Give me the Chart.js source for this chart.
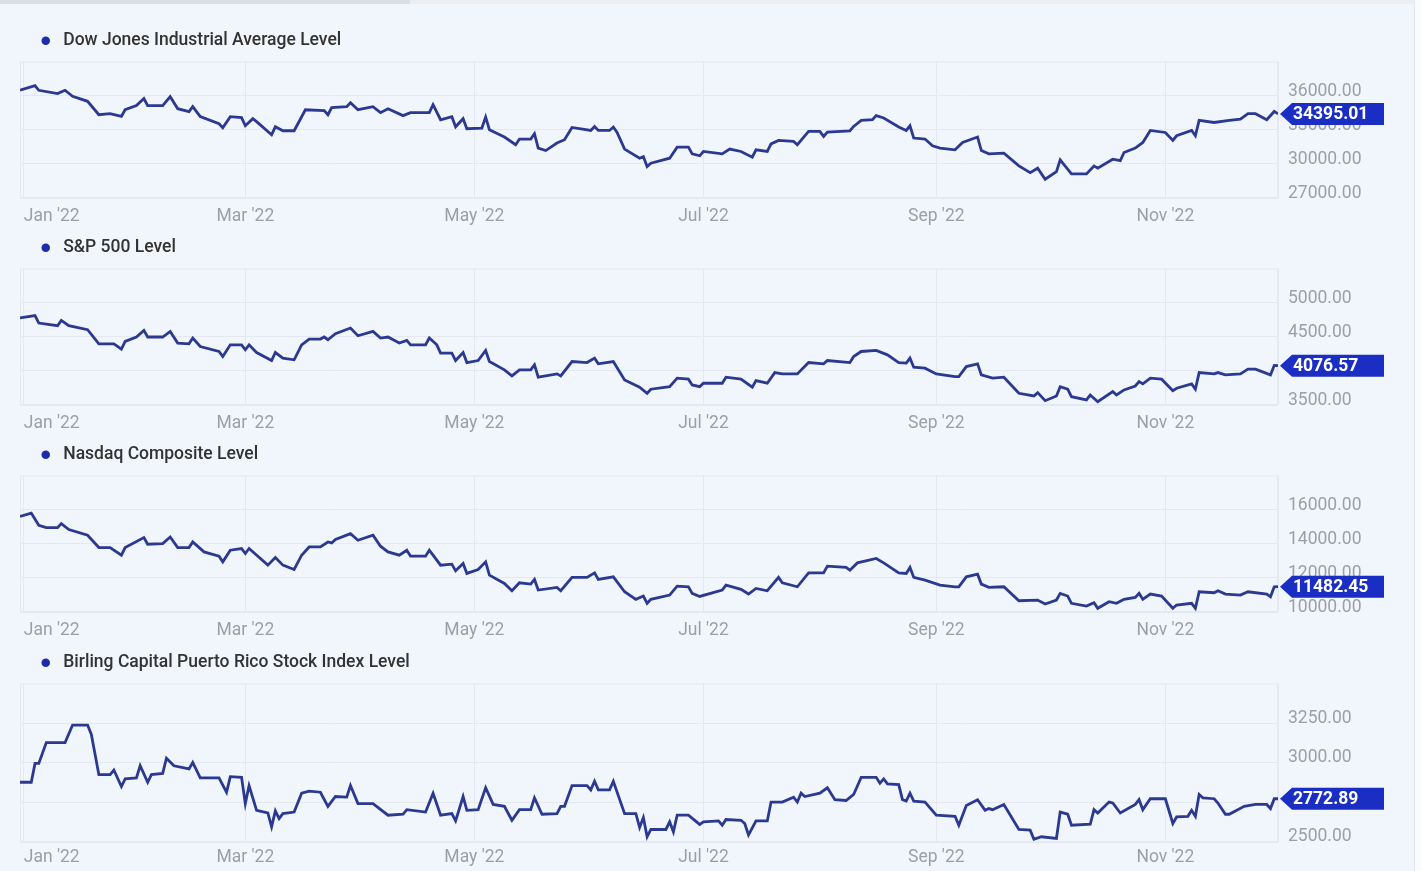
<!DOCTYPE html>
<html>
<head>
<meta charset="utf-8">
<title>Index levels 2022</title>
<script src="https://cdn.jsdelivr.net/npm/chart.js@4/dist/chart.umd.min.js"></script>
<style>
  html, body { margin: 0; padding: 0; }
  body { width: 1421px; height: 871px; background: #f1f5fc; position: relative; overflow: hidden; }
  .topbar { position: absolute; left: 0; top: 0; width: 1421px; height: 4px; background: #eceef1; }
  .topbar span { position: absolute; left: 0; top: 0; width: 410px; height: 4px; background: #dadde1; }
  .edge { position: absolute; right: 0; top: 0; width: 6px; height: 871px; background: #fafbfe; border-left: 1px solid #e2e7ef; }
  canvas { position: absolute; left: 0; }
</style>
</head>
<body>
<div class="topbar"><span></span></div>
<div class="edge"></div>
<canvas id="djia" width="1414" height="220" style="top:15px"></canvas>
<canvas id="spx" width="1414" height="220" style="top:222px"></canvas>
<canvas id="nasdaq" width="1414" height="220" style="top:429px"></canvas>
<canvas id="birling" width="1414" height="236" style="top:637px"></canvas>
<script>
// month ticks of the shared time axis
const monthTicks = ['2022-01-01', '2022-03-01', '2022-05-01', '2022-07-01', '2022-09-01', '2022-11-01', '2022-12-01'];
const monthLabels = ["Jan '22", "Mar '22", "May '22", "Jul '22", "Sep '22", "Nov '22", ''];

// Dow Jones Industrial Average
const djiaDates = [
  '2021-12-31','2022-01-04','2022-01-05','2022-01-10','2022-01-12','2022-01-14','2022-01-18','2022-01-21','2022-01-24','2022-01-27',
  '2022-01-28','2022-01-31','2022-02-02','2022-02-03','2022-02-07','2022-02-09','2022-02-11','2022-02-14','2022-02-15','2022-02-17',
  '2022-02-22','2022-02-23','2022-02-25','2022-02-28','2022-03-01','2022-03-03','2022-03-04','2022-03-08','2022-03-09','2022-03-11',
  '2022-03-14','2022-03-17','2022-03-22','2022-03-23','2022-03-24','2022-03-28','2022-03-29','2022-03-31','2022-04-04','2022-04-06',
  '2022-04-08','2022-04-12','2022-04-14','2022-04-19','2022-04-20','2022-04-22','2022-04-25','2022-04-26','2022-04-28','2022-04-29',
  '2022-05-03','2022-05-04','2022-05-05','2022-05-09','2022-05-12','2022-05-13','2022-05-16','2022-05-17','2022-05-18','2022-05-20',
  '2022-05-23','2022-05-25','2022-05-27','2022-06-01','2022-06-02','2022-06-03','2022-06-06','2022-06-07','2022-06-08','2022-06-10',
  '2022-06-14','2022-06-15','2022-06-16','2022-06-17','2022-06-22','2022-06-24','2022-06-27','2022-06-28','2022-06-30','2022-07-01',
  '2022-07-06','2022-07-08','2022-07-11','2022-07-14','2022-07-15','2022-07-18','2022-07-19','2022-07-21','2022-07-25','2022-07-26',
  '2022-07-29','2022-08-01','2022-08-02','2022-08-03','2022-08-09','2022-08-10','2022-08-12','2022-08-15','2022-08-16','2022-08-18',
  '2022-08-22','2022-08-24','2022-08-25','2022-08-26','2022-08-29','2022-08-31','2022-09-02','2022-09-06','2022-09-08','2022-09-12',
  '2022-09-13','2022-09-15','2022-09-19','2022-09-23','2022-09-26','2022-09-28','2022-09-30','2022-10-03','2022-10-04','2022-10-07',
  '2022-10-11','2022-10-13','2022-10-14','2022-10-18','2022-10-20','2022-10-21','2022-10-24','2022-10-26','2022-10-28','2022-11-01',
  '2022-11-03','2022-11-04','2022-11-08','2022-11-09','2022-11-10','2022-11-14','2022-11-18','2022-11-21','2022-11-23','2022-11-25',
  '2022-11-28','2022-11-30','2022-12-01'
];
const djiaLevels = [
  36470,36880,36470,36180,36470,35940,35500,34320,34410,34170,
  34760,35120,35740,35120,35120,35910,34850,34590,35030,34150,
  33530,33180,34150,34060,33350,33970,33710,32560,33260,32910,
  32910,34760,34680,34320,34940,35030,35380,34760,35030,34500,
  34850,34240,34500,34500,35210,33880,34150,33260,33970,33090,
  33150,34120,33000,32360,31680,32180,32180,32650,31390,31170,
  31830,32120,33200,32940,33290,32940,32940,33240,32760,31300,
  30500,30640,29760,30060,30500,31470,31470,30880,30710,31090,
  30880,31300,31090,30590,31240,31090,31760,32060,31970,31680,
  32850,32850,32410,32800,32910,33290,33820,33880,34240,34030,
  33240,32940,33350,32270,32180,31590,31390,31240,31880,32360,
  31170,30880,30940,29820,29230,29620,28650,29320,30350,29120,
  29120,29820,29620,30410,30290,31000,31390,31880,32940,32760,
  32060,32470,32940,32470,33820,33640,33820,33940,34410,34410,
  33880,34610,34395.01
];
const djiaTicks = [27000, 30000, 33000, 36000];

// S&P 500
const spxDates = [
  '2021-12-31','2022-01-04','2022-01-05','2022-01-10','2022-01-11','2022-01-13','2022-01-18','2022-01-21','2022-01-25','2022-01-27',
  '2022-01-28','2022-01-31','2022-02-02','2022-02-03','2022-02-07','2022-02-09','2022-02-11','2022-02-14','2022-02-15','2022-02-17',
  '2022-02-22','2022-02-23','2022-02-25','2022-02-28','2022-03-01','2022-03-02','2022-03-04','2022-03-08','2022-03-09','2022-03-11',
  '2022-03-14','2022-03-16','2022-03-18','2022-03-21','2022-03-22','2022-03-23','2022-03-25','2022-03-29','2022-03-31','2022-04-04',
  '2022-04-06','2022-04-08','2022-04-11','2022-04-13','2022-04-14','2022-04-18','2022-04-19','2022-04-21','2022-04-22','2022-04-25',
  '2022-04-26','2022-04-28','2022-04-29','2022-05-02','2022-05-04','2022-05-05','2022-05-09','2022-05-11','2022-05-13','2022-05-16',
  '2022-05-17','2022-05-18','2022-05-23','2022-05-24','2022-05-27','2022-05-31','2022-06-02','2022-06-03','2022-06-07','2022-06-10',
  '2022-06-14','2022-06-16','2022-06-17','2022-06-22','2022-06-24','2022-06-27','2022-06-28','2022-06-30','2022-07-01','2022-07-06',
  '2022-07-07','2022-07-11','2022-07-14','2022-07-15','2022-07-18','2022-07-20','2022-07-22','2022-07-26','2022-07-29','2022-08-02',
  '2022-08-03','2022-08-09','2022-08-10','2022-08-12','2022-08-16','2022-08-19','2022-08-22','2022-08-24','2022-08-25','2022-08-26',
  '2022-08-29','2022-09-01','2022-09-06','2022-09-07','2022-09-09','2022-09-12','2022-09-13','2022-09-16','2022-09-19','2022-09-23',
  '2022-09-27','2022-09-28','2022-09-30','2022-10-03','2022-10-04','2022-10-06','2022-10-07','2022-10-11','2022-10-12','2022-10-14',
  '2022-10-18','2022-10-19','2022-10-21','2022-10-24','2022-10-25','2022-10-26','2022-10-28','2022-10-31','2022-11-03','2022-11-04',
  '2022-11-08','2022-11-09','2022-11-10','2022-11-14','2022-11-15','2022-11-17','2022-11-21','2022-11-23','2022-11-25','2022-11-29',
  '2022-11-30','2022-12-01'
];
const spxLevels = [
  4775,4809,4701,4662,4740,4662,4603,4397,4397,4319,
  4431,4496,4593,4496,4496,4578,4407,4397,4481,4357,
  4284,4210,4382,4382,4309,4382,4269,4151,4269,4187,
  4162,4382,4466,4466,4496,4456,4544,4628,4515,4578,
  4481,4496,4407,4446,4382,4382,4481,4382,4260,4260,
  4151,4269,4122,4151,4299,4137,4015,3926,4015,4015,
  4088,3907,3956,3926,4137,4122,4187,4103,4137,3868,
  3760,3672,3731,3769,3893,3878,3794,3769,3819,3819,
  3907,3878,3760,3857,3819,3975,3956,3956,4122,4103,
  4151,4122,4210,4284,4299,4235,4122,4113,4187,4054,
  4040,3956,3916,3916,4063,4103,3941,3893,3907,3672,
  3632,3681,3563,3632,3769,3731,3622,3574,3647,3548,
  3696,3647,3721,3779,3843,3809,3893,3878,3710,3746,
  3809,3731,3975,3956,3975,3941,3956,4025,4025,3941,
  4080,4076.57
];
const spxTicks = [3500, 4000, 4500, 5000];

// Nasdaq Composite
const nasdaqDates = [
  '2021-12-31','2022-01-03','2022-01-05','2022-01-07','2022-01-10','2022-01-11','2022-01-13','2022-01-18','2022-01-21','2022-01-24',
  '2022-01-27','2022-01-28','2022-02-02','2022-02-03','2022-02-07','2022-02-09','2022-02-11','2022-02-14','2022-02-15','2022-02-18',
  '2022-02-22','2022-02-23','2022-02-25','2022-02-28','2022-03-01','2022-03-02','2022-03-07','2022-03-09','2022-03-11','2022-03-14',
  '2022-03-16','2022-03-18','2022-03-21','2022-03-23','2022-03-24','2022-03-25','2022-03-29','2022-03-31','2022-04-04','2022-04-06',
  '2022-04-08','2022-04-11','2022-04-13','2022-04-14','2022-04-18','2022-04-19','2022-04-22','2022-04-25','2022-04-26','2022-04-28',
  '2022-04-29','2022-05-02','2022-05-04','2022-05-05','2022-05-09','2022-05-11','2022-05-13','2022-05-16','2022-05-17','2022-05-18',
  '2022-05-23','2022-05-24','2022-05-27','2022-05-31','2022-06-02','2022-06-03','2022-06-07','2022-06-10','2022-06-13','2022-06-15',
  '2022-06-16','2022-06-17','2022-06-22','2022-06-24','2022-06-27','2022-06-28','2022-06-30','2022-07-06','2022-07-07','2022-07-11',
  '2022-07-13','2022-07-15','2022-07-18','2022-07-21','2022-07-22','2022-07-26','2022-07-29','2022-08-02','2022-08-03','2022-08-08',
  '2022-08-09','2022-08-11','2022-08-16','2022-08-18','2022-08-22','2022-08-24','2022-08-25','2022-08-26','2022-08-29','2022-09-02',
  '2022-09-06','2022-09-07','2022-09-09','2022-09-12','2022-09-13','2022-09-15','2022-09-19','2022-09-23','2022-09-28','2022-09-30',
  '2022-10-03','2022-10-04','2022-10-06','2022-10-07','2022-10-11','2022-10-13','2022-10-14','2022-10-17','2022-10-19','2022-10-21',
  '2022-10-24','2022-10-25','2022-10-26','2022-10-28','2022-10-31','2022-11-03','2022-11-04','2022-11-08','2022-11-09','2022-11-10',
  '2022-11-14','2022-11-15','2022-11-17','2022-11-21','2022-11-23','2022-11-28','2022-11-29','2022-11-30','2022-12-01'
];
const nasdaqLevels = [
  15606,15799,15080,14946,14946,15180,14829,14497,13778,13778,
  13329,13778,14362,13971,14012,14397,13778,13778,14105,13521,
  13270,12938,13621,13720,13428,13720,12745,13194,12745,12494,
  13329,13813,13813,14105,14047,14246,14596,14205,14497,13854,
  13521,13329,13621,13270,13270,13621,12745,12803,12412,12844,
  12260,12494,12938,12161,11676,11244,11711,11635,11910,11285,
  11443,11244,12027,12027,12295,11910,12062,11186,10742,10935,
  10509,10742,10993,11519,11478,11092,10911,11285,11577,11326,
  11052,11384,11244,12027,11711,11478,12295,12295,12687,12611,
  12453,12879,13136,12879,12295,12260,12611,12027,11869,11577,
  11478,11478,12062,12219,11635,11443,11478,10660,10701,10468,
  10701,11092,10935,10509,10351,10544,10217,10602,10509,10742,
  10859,11092,10742,11052,10935,10217,10409,10509,10217,11186,
  11127,11244,11052,10993,11186,11052,10894,11478,11482.45
];
const nasdaqTicks = [10000, 12000, 14000, 16000];

// Birling Capital Puerto Rico Stock Index
const birlingDates = [
  '2021-12-31','2022-01-03','2022-01-04','2022-01-05','2022-01-07','2022-01-12','2022-01-14','2022-01-18','2022-01-19','2022-01-21',
  '2022-01-24','2022-01-25','2022-01-27','2022-01-28','2022-01-31','2022-02-01','2022-02-03','2022-02-04','2022-02-07','2022-02-08',
  '2022-02-10','2022-02-14','2022-02-15','2022-02-17','2022-02-22','2022-02-24','2022-02-25','2022-02-28','2022-03-01','2022-03-02',
  '2022-03-04','2022-03-07','2022-03-08','2022-03-09','2022-03-10','2022-03-11','2022-03-14','2022-03-16','2022-03-18','2022-03-21',
  '2022-03-23','2022-03-25','2022-03-28','2022-03-29','2022-03-31','2022-04-04','2022-04-08','2022-04-12','2022-04-13','2022-04-18',
  '2022-04-20','2022-04-22','2022-04-25','2022-04-26','2022-04-28','2022-04-29','2022-05-02','2022-05-04','2022-05-06','2022-05-09',
  '2022-05-11','2022-05-13','2022-05-16','2022-05-17','2022-05-19','2022-05-23','2022-05-24','2022-05-25','2022-05-27','2022-05-31',
  '2022-06-01','2022-06-02','2022-06-03','2022-06-06','2022-06-07','2022-06-10','2022-06-13','2022-06-14','2022-06-15','2022-06-16',
  '2022-06-17','2022-06-21','2022-06-22','2022-06-23','2022-06-24','2022-06-27','2022-06-30','2022-07-01','2022-07-05','2022-07-06',
  '2022-07-07','2022-07-11','2022-07-12','2022-07-13','2022-07-15','2022-07-18','2022-07-19','2022-07-22','2022-07-25','2022-07-26',
  '2022-07-27','2022-07-28','2022-08-01','2022-08-03','2022-08-05','2022-08-08','2022-08-10','2022-08-12','2022-08-16','2022-08-17',
  '2022-08-18','2022-08-19','2022-08-22','2022-08-23','2022-08-24','2022-08-25','2022-08-26','2022-08-29','2022-09-01','2022-09-06',
  '2022-09-07','2022-09-09','2022-09-12','2022-09-14','2022-09-15','2022-09-16','2022-09-19','2022-09-23','2022-09-26','2022-09-27',
  '2022-09-29','2022-10-03','2022-10-04','2022-10-06','2022-10-07','2022-10-12','2022-10-13','2022-10-14','2022-10-17','2022-10-18',
  '2022-10-20','2022-10-24','2022-10-25','2022-10-26','2022-10-28','2022-11-01','2022-11-03','2022-11-04','2022-11-07','2022-11-08',
  '2022-11-09','2022-11-10','2022-11-11','2022-11-14','2022-11-15','2022-11-17','2022-11-18','2022-11-22','2022-11-25','2022-11-28',
  '2022-11-29','2022-11-30','2022-12-01'
];
const birlingLevels = [
  2877,2877,2996,2996,3127,3127,3238,3238,3179,2925,
  2925,2954,2850,2898,2904,2981,2877,2925,2933,3029,
  2981,2961,3002,2904,2904,2814,2912,2908,2742,2856,
  2700,2683,2596,2696,2648,2679,2689,2808,2821,2814,
  2725,2787,2783,2856,2742,2742,2669,2675,2704,2689,
  2808,2669,2679,2633,2787,2700,2704,2842,2737,2725,
  2637,2704,2704,2779,2675,2679,2725,2725,2856,2856,
  2829,2883,2829,2829,2883,2679,2679,2592,2654,2533,
  2579,2579,2627,2564,2669,2669,2611,2627,2633,2606,
  2642,2637,2617,2544,2633,2633,2752,2752,2783,2752,
  2808,2787,2808,2842,2767,2762,2800,2908,2908,2871,
  2898,2867,2862,2767,2758,2808,2758,2752,2669,2662,
  2606,2731,2767,2700,2711,2704,2737,2579,2575,2517,
  2533,2523,2689,2675,2606,2612,2704,2683,2752,2746,
  2683,2737,2767,2704,2773,2773,2617,2658,2662,2700,
  2662,2800,2779,2773,2746,2675,2675,2725,2737,2737,
  2711,2773,2772.89
];
const birlingTicks = [2500, 2750, 3000, 3250];

const YEAR_START = Date.UTC(2022, 0, 1);
function dayNum(s) {
  const p = s.split('-').map(Number);
  return (Date.UTC(p[0], p[1] - 1, p[2]) - YEAR_START) / 86400000;
}

const tickFont = { family: 'Roboto', size: 17.5 };
const tickColor = '#9b9fa6';
const gridColor = '#e3e8f1';

// a bit more room between legend and plot
const legendGap = {
  id: 'legendGap',
  beforeInit(chart) {
    const fit = chart.legend.fit;
    chart.legend.fit = function () { fit.call(this); this.height += 2; };
  }
};

const plotFrame = {
  id: 'plotFrame',
  beforeDatasetsDraw(chart) {
    const { ctx, chartArea: a } = chart;
    ctx.save();
    ctx.strokeStyle = gridColor;
    ctx.lineWidth = 1;
    ctx.strokeRect(a.left + 0.5, a.top + 0.5, a.width - 1, a.height - 1);
    ctx.restore();
  }
};

// flag with the last value at the right axis
const lastValueBadge = {
  id: 'lastValueBadge',
  afterDatasetsDraw(chart) {
    const meta = chart.getDatasetMeta(0);
    const pt = meta.data[meta.data.length - 1];
    const data = chart.data.datasets[0].data;
    const v = data[data.length - 1].y;
    const { ctx, chartArea } = chart;
    const x0 = chartArea.right + 2, y = pt.y, h = 22, w = 104;
    ctx.save();
    ctx.fillStyle = '#1a2ec4';
    ctx.beginPath();
    ctx.moveTo(x0, y);
    ctx.lineTo(x0 + 12, y - h / 2);
    ctx.lineTo(x0 + w, y - h / 2);
    ctx.lineTo(x0 + w, y + h / 2);
    ctx.lineTo(x0 + 12, y + h / 2);
    ctx.closePath();
    ctx.fill();
    ctx.fillStyle = '#ffffff';
    ctx.font = 'bold 17.5px Roboto';
    ctx.textBaseline = 'middle';
    ctx.fillText(v.toFixed(2), x0 + 13, y + 1);
    ctx.restore();
  }
};

function drawPanel(id, name, dates, levels, yMin, yMax, yTicks, labelPad, yLabelShift) {
  const points = dates.map((d, i) => ({ x: dayNum(d), y: levels[i] }));
  return new Chart(document.getElementById(id), {
    type: 'line',
    data: {
      datasets: [{
        label: name,
        data: points,
        borderColor: '#2b3990',
        backgroundColor: '#1f2ca8',
        borderWidth: 2.8,
        pointRadius: 0,
        tension: 0
      }]
    },
    options: {
      responsive: false,
      animation: false,
      layout: { padding: { left: 20, top: 0, right: 0, bottom: 0 } },
      plugins: {
        legend: {
          position: 'top',
          align: 'start',
          labels: {
            usePointStyle: true,
            pointStyle: 'circle',
            boxWidth: 18,
            boxHeight: 6,
            padding: 17,
            color: '#333333',
            font: { family: 'Roboto', size: 17.5, weight: '500' },
            generateLabels: chart => Chart.defaults.plugins.legend.labels.generateLabels(chart)
              .map(l => Object.assign(l, { lineWidth: 0, fillStyle: '#1f2ca8' }))
          }
        },
        tooltip: { enabled: false }
      },
      scales: {
        x: {
          type: 'linear',
          min: dayNum('2021-12-31'),
          max: dayNum('2022-12-01'),
          afterBuildTicks: s => { s.ticks = monthTicks.map(d => ({ value: dayNum(d) })); },
          ticks: {
            align: 'inner',
            padding: labelPad,
            autoSkip: false,
            maxRotation: 0,
            color: tickColor,
            font: tickFont,
            callback: (v, i) => monthLabels[i]
          },
          grid: { color: gridColor, drawTicks: false },
          border: { display: false }
        },
        y: {
          position: 'right',
          min: yMin,
          max: yMax,
          afterBuildTicks: s => { s.ticks = yTicks.map(v => ({ value: v })); },
          afterFit: s => { s.width = 136; },
          ticks: {
            padding: 10,
            labelOffset: yLabelShift,
            color: tickColor,
            font: tickFont,
            callback: v => v.toFixed(2)
          },
          grid: { color: gridColor, drawTicks: false },
          border: { display: false }
        }
      }
    },
    plugins: [legendGap, plotFrame, lastValueBadge]
  });
}

drawPanel('djia', 'Dow Jones Industrial Average Level', djiaDates, djiaLevels, 27000, 39000, djiaTicks, 8, -4.5);
drawPanel('spx', 'S&P 500 Level', spxDates, spxLevels, 3500, 5500, spxTicks, 8, -4.5);
drawPanel('nasdaq', 'Nasdaq Composite Level', nasdaqDates, nasdaqLevels, 10000, 18000, nasdaqTicks, 8, -4);
drawPanel('birling', 'Birling Capital Puerto Rico Stock Index Level', birlingDates, birlingLevels, 2500, 3500, birlingTicks, 5, -5);
</script>
</body>
</html>
